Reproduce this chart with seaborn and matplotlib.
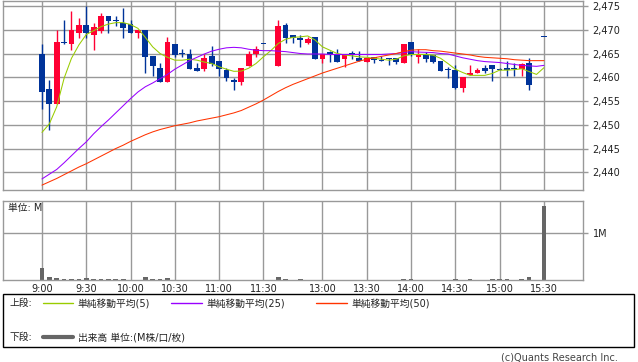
import numpy as np
import pandas as pd
import matplotlib
matplotlib.use("Agg")
import matplotlib.pyplot as plt
from matplotlib.lines import Line2D
from matplotlib.patches import Rectangle
import seaborn as sns

# 5分足スロット (31 と 67 は空き)
slot = np.arange(69)
nan = np.nan

opens = [2465.0, 2457.5, 2454.4, 2467.3, 2466.9, 2469.4, 2471.1, 2468.8, 2469.8, 2472.9,
         2472.0, 2471.5, 2471.2, 2469.4, 2470.0, 2464.5, 2462.0, 2458.9, 2467.1, 2465.0,
         2464.9, 2462.0, 2461.8, 2464.5, 2463.4, 2461.5, 2459.4, 2458.9, 2462.4, 2464.8,
         2467.0, nan, 2462.4, 2471.0, 2468.9, 2468.3, 2467.3, 2468.5, 2463.9, 2465.1,
         2465.0, 2463.9, 2465.0, 2464.1, 2463.2, 2464.3, 2463.5, 2464.0, 2464.1, 2462.9,
         2467.4, 2464.3, 2464.7, 2464.7, 2463.4, 2461.6, 2461.5, 2457.8, 2460.4, 2460.8,
         2461.9, 2462.6, 2461.6, 2462.0, 2461.9, 2461.8, 2463.1, nan, 2468.4]
highs = [2467.1, 2459.4, 2470.0, 2472.0, 2474.0, 2472.5, 2475.1, 2471.4, 2473.5, 2472.9,
         2472.9, 2474.6, 2472.0, 2470.0, 2470.0, 2464.5, 2463.1, 2468.5, 2467.1, 2466.0,
         2466.0, 2463.1, 2464.9, 2466.6, 2463.4, 2462.0, 2459.9, 2462.0, 2465.5, 2466.6,
         2467.0, nan, 2472.0, 2471.4, 2468.9, 2468.9, 2468.5, 2468.5, 2464.9, 2465.6,
         2465.9, 2465.0, 2465.5, 2465.5, 2464.1, 2464.3, 2464.5, 2464.0, 2464.1, 2467.0,
         2467.4, 2465.9, 2465.3, 2464.7, 2463.4, 2462.2, 2462.5, 2460.0, 2462.6, 2462.0,
         2462.5, 2462.6, 2462.0, 2463.4, 2462.9, 2462.9, 2464.1, nan, 2468.4]
lows = [2453.4, 2449.0, 2454.4, 2467.0, 2465.7, 2468.3, 2468.3, 2465.7, 2469.4, 2469.4,
        2470.8, 2468.3, 2469.4, 2468.3, 2460.8, 2460.3, 2458.9, 2458.9, 2464.3, 2464.3,
        2461.8, 2461.4, 2461.4, 2462.4, 2460.3, 2459.3, 2457.3, 2458.4, 2462.4, 2464.3,
        2467.0, nan, 2462.4, 2467.3, 2467.3, 2466.4, 2466.9, 2463.9, 2462.9, 2463.3,
        2463.3, 2462.2, 2463.9, 2463.4, 2463.2, 2462.9, 2463.4, 2462.5, 2462.8, 2462.9,
        2464.5, 2462.9, 2463.3, 2462.9, 2461.4, 2459.9, 2457.5, 2456.8, 2460.4, 2460.8,
        2460.8, 2459.3, 2461.5, 2460.3, 2460.3, 2460.3, 2457.4, nan, 2468.4]
closes = [2456.8, 2454.4, 2467.4, 2467.3, 2470.0, 2471.1, 2469.4, 2470.5, 2472.9, 2471.9,
          2471.9, 2470.4, 2469.4, 2470.0, 2464.3, 2462.4, 2458.9, 2467.4, 2464.7, 2464.9,
          2461.8, 2461.4, 2464.1, 2462.8, 2461.8, 2459.9, 2458.9, 2462.0, 2464.9, 2466.0,
          2467.0, nan, 2470.7, 2468.3, 2468.3, 2467.9, 2468.1, 2463.9, 2464.9, 2465.0,
          2463.3, 2464.7, 2464.8, 2463.4, 2464.1, 2463.6, 2463.4, 2463.9, 2463.2, 2467.0,
          2464.7, 2464.7, 2463.9, 2463.2, 2461.4, 2461.5, 2457.8, 2460.0, 2460.9, 2461.5,
          2461.3, 2461.8, 2461.5, 2461.5, 2461.8, 2462.7, 2458.4, nan, 2468.4]

ma5 = [2448.4, 2450.2, 2453.8, 2459.8, 2464.0, 2466.8, 2469.0, 2469.8, 2470.65, 2471.2,
       2471.5, 2471.5, 2471.1, 2470.3, 2468.4, 2466.4, 2465.0, 2464.2, 2463.6, 2463.6,
       2463.8, 2463.6, 2463.2, 2462.9, 2462.2, 2461.7, 2461.25, 2461.3, 2461.9, 2462.9,
       2464.3, 2465.6, 2467.1, 2468.0, 2468.4, 2468.5, 2468.7, 2467.85, 2466.4, 2465.7,
       2465.0, 2464.7, 2464.5, 2464.3, 2464.2, 2464.0, 2463.8, 2463.6, 2463.8, 2464.5,
       2464.8, 2464.8, 2464.8, 2464.65, 2464.0, 2462.9, 2461.7, 2461.0, 2460.4, 2460.4,
       2460.4, 2460.8, 2461.5, 2461.5, 2461.6, 2461.8, 2461.2, 2460.6, 2462.0]
ma25 = [2438.6, 2439.6, 2440.6, 2442.0, 2443.5, 2445.0, 2446.4, 2448.1, 2449.6, 2451.0,
        2452.5, 2454.0, 2455.5, 2456.9, 2458.0, 2458.8, 2459.7, 2460.6, 2461.7, 2462.6,
        2463.5, 2464.2, 2464.9, 2465.5, 2465.9, 2466.2, 2466.3, 2466.2, 2465.9, 2465.7,
        2465.6, 2465.6, 2465.5, 2465.4, 2465.2, 2465.0, 2464.9, 2464.9, 2464.9, 2464.8,
        2464.8, 2464.8, 2464.8, 2464.8, 2464.8, 2464.8, 2464.8, 2464.9, 2465.0, 2465.2,
        2465.4, 2465.3, 2465.25, 2465.2, 2465.0, 2464.9, 2464.5, 2464.1, 2463.8, 2463.5,
        2463.3, 2463.2, 2463.1, 2462.9, 2462.7, 2462.5, 2462.4, 2462.3, 2462.5]
ma50 = [2437.3, 2438.0, 2438.7, 2439.5, 2440.3, 2441.1, 2441.8, 2442.6, 2443.4, 2444.2,
        2445.0, 2445.7, 2446.5, 2447.2, 2447.9, 2448.5, 2449.0, 2449.4, 2449.8, 2450.1,
        2450.4, 2450.8, 2451.1, 2451.4, 2451.7, 2452.1, 2452.5, 2453.0, 2453.7, 2454.4,
        2455.2, 2456.1, 2457.0, 2457.8, 2458.5, 2459.1, 2459.7, 2460.3, 2460.9, 2461.4,
        2461.9, 2462.4, 2462.9, 2463.4, 2463.8, 2464.1, 2464.4, 2464.7, 2465.0, 2465.4,
        2465.7, 2465.8, 2465.8, 2465.6, 2465.5, 2465.3, 2465.1, 2464.9, 2464.7, 2464.4,
        2464.2, 2464.1, 2464.0, 2463.9, 2463.7, 2463.6, 2463.5, 2463.5, 2463.5]

# 出来高 (M)
volume = [0.26, 0.07, 0.05, 0.03, 0.03, 0.03, 0.05, 0.03, 0.03, 0.03,
          0.03, 0.03, 0.01, 0.01, 0.07, 0.03, 0.03, 0.05, 0.005, 0.005,
          0.005, 0.005, 0.005, 0.005, 0.005, 0.005, 0.005, 0.005, 0.005, 0.005,
          0.005, 0.0, 0.07, 0.03, 0.005, 0.03, 0.005, 0.005, 0.005, 0.005,
          0.005, 0.005, 0.005, 0.005, 0.005, 0.005, 0.005, 0.005, 0.005, 0.03,
          0.03, 0.005, 0.005, 0.005, 0.005, 0.005, 0.03, 0.005, 0.03, 0.005,
          0.005, 0.03, 0.03, 0.03, 0.005, 0.03, 0.07, 0.0, 1.58]

tick_pos = [0, 6, 12, 18, 24, 30, 38, 44, 50, 56, 62, 68]
tick_labels = ["9:00", "9:30", "10:00", "10:30", "11:00", "11:30",
               "13:00", "13:30", "14:00", "14:30", "15:00", "15:30"]
price_ticks = [2440, 2445, 2450, 2455, 2460, 2465, 2470, 2475]

sns.set_theme(style="white")
plt.rcParams['font.family'] = ['DejaVu Sans', 'Noto Sans CJK JP']

grid_col = '#999999'
up_col = '#FF0033'
down_col = '#003399'
ma_cols = {'ma5': '#99CC00', 'ma25': '#9900FF', 'ma50': '#FF3300'}

W, H = 638, 362
fig = plt.figure(figsize=(W / 100, H / 100), dpi=100)
ax = fig.add_axes([3 / W, 1 - 190 / H, 580 / W, 189.5 / H])
axv = fig.add_axes([3 / W, 1 - 280 / H, 580 / W, 79 / H])

xlim = (-5.28, 73.3)

# ローソク足
o = np.array(opens); h = np.array(highs); l = np.array(lows); c = np.array(closes)
ok = ~np.isnan(o)
cols = np.where(c > o, up_col, down_col)
ax.vlines(slot[ok], l[ok], h[ok], colors=cols[ok], linewidth=1, zorder=2)
body_lo = np.minimum(o, c)
body_h = np.maximum(np.abs(c - o), 0.22)
ax.bar(slot[ok], body_h[ok], bottom=body_lo[ok], width=0.78, color=cols[ok],
       linewidth=0, zorder=2)

# 移動平均
ma_df = pd.DataFrame({'slot': slot, 'ma5': ma5, 'ma25': ma25, 'ma50': ma50})
ma_long = ma_df.melt(id_vars='slot', var_name='series', value_name='price')
sns.lineplot(data=ma_long, x='slot', y='price', hue='series', palette=ma_cols,
             estimator=None, linewidth=0.75, legend=False, ax=ax, zorder=3)

ax.set_xlim(*xlim)
ax.set_ylim(2436.27, 2476.16)
ax.set_xticks(tick_pos)
ax.set_yticks(price_ticks)
ax.set_yticklabels([f"{v:,}" for v in price_ticks])
ax.yaxis.tick_right()
ax.tick_params(axis='x', length=0, labelbottom=False)
ax.tick_params(axis='y', length=3.5, width=1, color=grid_col, pad=3.5,
               labelsize=7, labelcolor='#222222')
ax.grid(True, color=grid_col, linewidth=1)
ax.set_axisbelow(True)
ax.set_xlabel('')
ax.set_ylabel('')
for sp in ax.spines.values():
    sp.set_color(grid_col)
    sp.set_linewidth(1)

# 出来高
axv.bar(slot, volume, width=0.64, color='#666666', linewidth=0, zorder=2)
axv.set_xlim(*xlim)
axv.set_ylim(0, 1.692)
axv.set_xticks(tick_pos)
axv.set_xticklabels(tick_labels)
axv.set_yticks([1.0])
axv.set_yticklabels(['1M'])
axv.yaxis.tick_right()
axv.tick_params(axis='x', length=0, pad=3, labelsize=7, labelcolor='#222222')
axv.tick_params(axis='y', length=3.5, width=1, color=grid_col, pad=3.5,
                labelsize=7, labelcolor='#222222')
axv.grid(True, color=grid_col, linewidth=1)
axv.set_axisbelow(True)
for sp in axv.spines.values():
    sp.set_color(grid_col)
    sp.set_linewidth(1)
fig.text(8 / W, 1 - 208 / H, "単位: M", fontsize=7, va='center', color='#222222')

# 凡例
fig.add_artist(Rectangle((3 / W, 1 - 347 / H), 631 / W, 53 / H, transform=fig.transFigure,
                         fill=False, edgecolor='black', linewidth=1))
y1 = 1 - 303 / H
y2 = 1 - 337 / H
fig.text(10 / W, y1, "上段:", fontsize=7, va='center', color='#222222')
legend_items = [(43, 73, 77.5, 'ma5', "単純移動平均(5)"),
                (171, 202, 206, 'ma25', "単純移動平均(25)"),
                (316, 347, 351, 'ma50', "単純移動平均(50)")]
for x0, x1, xt, key, label in legend_items:
    fig.add_artist(Line2D([x0 / W, x1 / W], [y1, y1], transform=fig.transFigure,
                          color=ma_cols[key], linewidth=1))
    fig.text(xt / W, y1, label, fontsize=7, va='center', color='#222222')
fig.text(10 / W, y2, "下段:", fontsize=7, va='center', color='#222222')
fig.add_artist(Line2D([43 / W, 73 / W], [y2, y2], transform=fig.transFigure,
                      color='#666666', linewidth=3))
fig.text(77.5 / W, y2, "出来高 単位:(M株/口/枚)", fontsize=7, va='center', color='#222222')

fig.text(618 / W, 1 - 357 / H, "(c)Quants Research Inc.", fontsize=7, ha='right',
         va='center', color='#444444')

fig.savefig('out.png', dpi=100)
